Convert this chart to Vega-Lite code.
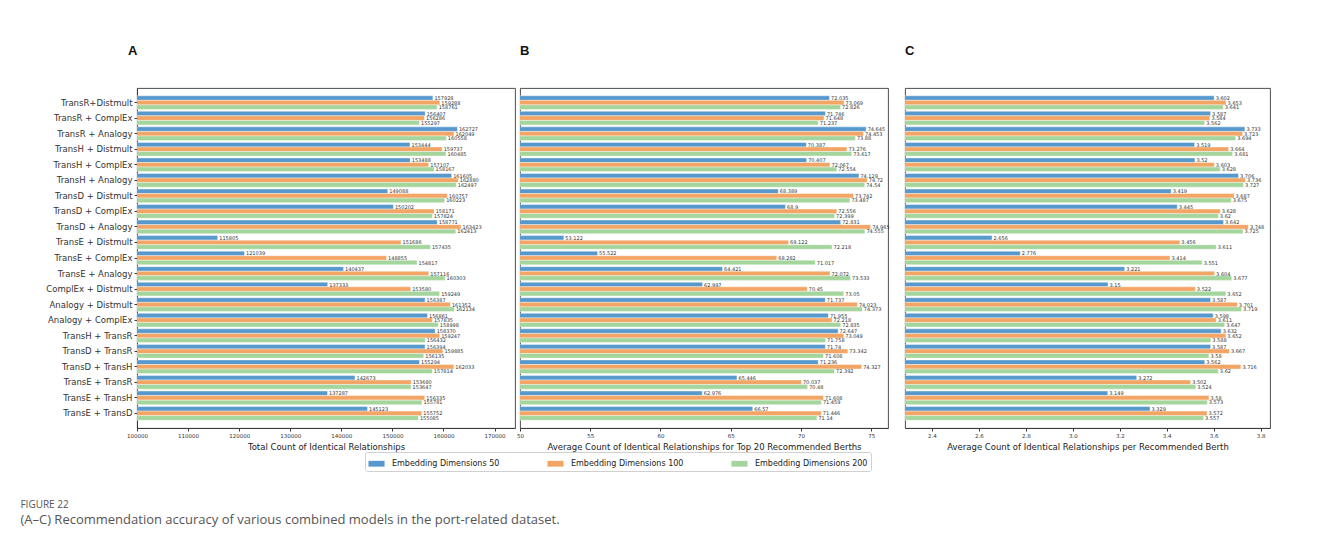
{
  "$schema": "https://vega.github.io/schema/vega-lite/v6.json",
  "padding": {"left": 20, "top": 44, "right": 10, "bottom": 5},
  "background": "white",
  "config": {
    "font": "DejaVu Sans",
    "view": {"stroke": "#3a3a3a", "strokeWidth": 0.9},
    "axis": {"grid": false, "labelFont": "DejaVu Sans", "titleFont": "DejaVu Sans", "labelColor": "#333", "titleColor": "#222", "domainColor": "#3a3a3a", "tickColor": "#3a3a3a", "tickSize": 3, "labelPadding": 2, "titleFontWeight": "normal"},
    "title": {"font": "Liberation Sans", "fontSize": 13, "fontWeight": "bold", "color": "#111", "anchor": "start", "offset": 30, "frame": "group"}
  },
  "datasets": {
    "total": [
      {"model": "TransR+Distmult", "dims": "Embedding Dimensions 50", "value": 157928},
      {"model": "TransR+Distmult", "dims": "Embedding Dimensions 100", "value": 159288},
      {"model": "TransR+Distmult", "dims": "Embedding Dimensions 200", "value": 158761},
      {"model": "TransR + ComplEx", "dims": "Embedding Dimensions 50", "value": 156407},
      {"model": "TransR + ComplEx", "dims": "Embedding Dimensions 100", "value": 156286},
      {"model": "TransR + ComplEx", "dims": "Embedding Dimensions 200", "value": 155297},
      {"model": "TransR + Analogy", "dims": "Embedding Dimensions 50", "value": 162727},
      {"model": "TransR + Analogy", "dims": "Embedding Dimensions 100", "value": 162049},
      {"model": "TransR + Analogy", "dims": "Embedding Dimensions 200", "value": 160558},
      {"model": "TransH + Distmult", "dims": "Embedding Dimensions 50", "value": 153444},
      {"model": "TransH + Distmult", "dims": "Embedding Dimensions 100", "value": 159737},
      {"model": "TransH + Distmult", "dims": "Embedding Dimensions 200", "value": 160485},
      {"model": "TransH + ComplEx", "dims": "Embedding Dimensions 50", "value": 153488},
      {"model": "TransH + ComplEx", "dims": "Embedding Dimensions 100", "value": 157107},
      {"model": "TransH + ComplEx", "dims": "Embedding Dimensions 200", "value": 158167},
      {"model": "TransH + Analogy", "dims": "Embedding Dimensions 50", "value": 161605},
      {"model": "TransH + Analogy", "dims": "Embedding Dimensions 100", "value": 162880},
      {"model": "TransH + Analogy", "dims": "Embedding Dimensions 200", "value": 162497},
      {"model": "TransD + Distmult", "dims": "Embedding Dimensions 50", "value": 149088},
      {"model": "TransD + Distmult", "dims": "Embedding Dimensions 100", "value": 160757},
      {"model": "TransD + Distmult", "dims": "Embedding Dimensions 200", "value": 160223},
      {"model": "TransD + ComplEx", "dims": "Embedding Dimensions 50", "value": 150202},
      {"model": "TransD + ComplEx", "dims": "Embedding Dimensions 100", "value": 158171},
      {"model": "TransD + ComplEx", "dims": "Embedding Dimensions 200", "value": 157824},
      {"model": "TransD + Analogy", "dims": "Embedding Dimensions 50", "value": 158771},
      {"model": "TransD + Analogy", "dims": "Embedding Dimensions 100", "value": 163423},
      {"model": "TransD + Analogy", "dims": "Embedding Dimensions 200", "value": 162413},
      {"model": "TransE + Distmult", "dims": "Embedding Dimensions 50", "value": 115805},
      {"model": "TransE + Distmult", "dims": "Embedding Dimensions 100", "value": 151686},
      {"model": "TransE + Distmult", "dims": "Embedding Dimensions 200", "value": 157435},
      {"model": "TransE + ComplEx", "dims": "Embedding Dimensions 50", "value": 121039},
      {"model": "TransE + ComplEx", "dims": "Embedding Dimensions 100", "value": 148855},
      {"model": "TransE + ComplEx", "dims": "Embedding Dimensions 200", "value": 154817},
      {"model": "TransE + Analogy", "dims": "Embedding Dimensions 50", "value": 140437},
      {"model": "TransE + Analogy", "dims": "Embedding Dimensions 100", "value": 157116},
      {"model": "TransE + Analogy", "dims": "Embedding Dimensions 200", "value": 160303},
      {"model": "ComplEx + Distmult", "dims": "Embedding Dimensions 50", "value": 137333},
      {"model": "ComplEx + Distmult", "dims": "Embedding Dimensions 100", "value": 153580},
      {"model": "ComplEx + Distmult", "dims": "Embedding Dimensions 200", "value": 159249},
      {"model": "Analogy + Distmult", "dims": "Embedding Dimensions 50", "value": 156387},
      {"model": "Analogy + Distmult", "dims": "Embedding Dimensions 100", "value": 161352},
      {"model": "Analogy + Distmult", "dims": "Embedding Dimensions 200", "value": 162134},
      {"model": "Analogy + ComplEx", "dims": "Embedding Dimensions 50", "value": 156861},
      {"model": "Analogy + ComplEx", "dims": "Embedding Dimensions 100", "value": 157835},
      {"model": "Analogy + ComplEx", "dims": "Embedding Dimensions 200", "value": 158998},
      {"model": "TransH + TransR", "dims": "Embedding Dimensions 50", "value": 158370},
      {"model": "TransH + TransR", "dims": "Embedding Dimensions 100", "value": 159247},
      {"model": "TransH + TransR", "dims": "Embedding Dimensions 200", "value": 156432},
      {"model": "TransD + TransR", "dims": "Embedding Dimensions 50", "value": 156394},
      {"model": "TransD + TransR", "dims": "Embedding Dimensions 100", "value": 159885},
      {"model": "TransD + TransR", "dims": "Embedding Dimensions 200", "value": 156135},
      {"model": "TransD + TransH", "dims": "Embedding Dimensions 50", "value": 155294},
      {"model": "TransD + TransH", "dims": "Embedding Dimensions 100", "value": 162033},
      {"model": "TransD + TransH", "dims": "Embedding Dimensions 200", "value": 157814},
      {"model": "TransE + TransR", "dims": "Embedding Dimensions 50", "value": 142673},
      {"model": "TransE + TransR", "dims": "Embedding Dimensions 100", "value": 153680},
      {"model": "TransE + TransR", "dims": "Embedding Dimensions 200", "value": 153647},
      {"model": "TransE + TransH", "dims": "Embedding Dimensions 50", "value": 137287},
      {"model": "TransE + TransH", "dims": "Embedding Dimensions 100", "value": 156335},
      {"model": "TransE + TransH", "dims": "Embedding Dimensions 200", "value": 155781},
      {"model": "TransE + TransD", "dims": "Embedding Dimensions 50", "value": 145123},
      {"model": "TransE + TransD", "dims": "Embedding Dimensions 100", "value": 155752},
      {"model": "TransE + TransD", "dims": "Embedding Dimensions 200", "value": 155085}
    ],
    "top20": [
      {"model": "TransR+Distmult", "dims": "Embedding Dimensions 50", "value": 72.035},
      {"model": "TransR+Distmult", "dims": "Embedding Dimensions 100", "value": 73.069},
      {"model": "TransR+Distmult", "dims": "Embedding Dimensions 200", "value": 72.826},
      {"model": "TransR + ComplEx", "dims": "Embedding Dimensions 50", "value": 71.746},
      {"model": "TransR + ComplEx", "dims": "Embedding Dimensions 100", "value": 71.648},
      {"model": "TransR + ComplEx", "dims": "Embedding Dimensions 200", "value": 71.237},
      {"model": "TransR + Analogy", "dims": "Embedding Dimensions 50", "value": 74.645},
      {"model": "TransR + Analogy", "dims": "Embedding Dimensions 100", "value": 74.453},
      {"model": "TransR + Analogy", "dims": "Embedding Dimensions 200", "value": 73.88},
      {"model": "TransH + Distmult", "dims": "Embedding Dimensions 50", "value": 70.387},
      {"model": "TransH + Distmult", "dims": "Embedding Dimensions 100", "value": 73.276},
      {"model": "TransH + Distmult", "dims": "Embedding Dimensions 200", "value": 73.617},
      {"model": "TransH + ComplEx", "dims": "Embedding Dimensions 50", "value": 70.407},
      {"model": "TransH + ComplEx", "dims": "Embedding Dimensions 100", "value": 72.067},
      {"model": "TransH + ComplEx", "dims": "Embedding Dimensions 200", "value": 72.554},
      {"model": "TransH + Analogy", "dims": "Embedding Dimensions 50", "value": 74.129},
      {"model": "TransH + Analogy", "dims": "Embedding Dimensions 100", "value": 74.72},
      {"model": "TransH + Analogy", "dims": "Embedding Dimensions 200", "value": 74.54},
      {"model": "TransD + Distmult", "dims": "Embedding Dimensions 50", "value": 68.389},
      {"model": "TransD + Distmult", "dims": "Embedding Dimensions 100", "value": 73.742},
      {"model": "TransD + Distmult", "dims": "Embedding Dimensions 200", "value": 73.487},
      {"model": "TransD + ComplEx", "dims": "Embedding Dimensions 50", "value": 68.9},
      {"model": "TransD + ComplEx", "dims": "Embedding Dimensions 100", "value": 72.556},
      {"model": "TransD + ComplEx", "dims": "Embedding Dimensions 200", "value": 72.399},
      {"model": "TransD + Analogy", "dims": "Embedding Dimensions 50", "value": 72.831},
      {"model": "TransD + Analogy", "dims": "Embedding Dimensions 100", "value": 74.965},
      {"model": "TransD + Analogy", "dims": "Embedding Dimensions 200", "value": 74.555},
      {"model": "TransE + Distmult", "dims": "Embedding Dimensions 50", "value": 53.122},
      {"model": "TransE + Distmult", "dims": "Embedding Dimensions 100", "value": 69.122},
      {"model": "TransE + Distmult", "dims": "Embedding Dimensions 200", "value": 72.218},
      {"model": "TransE + ComplEx", "dims": "Embedding Dimensions 50", "value": 55.522},
      {"model": "TransE + ComplEx", "dims": "Embedding Dimensions 100", "value": 68.282},
      {"model": "TransE + ComplEx", "dims": "Embedding Dimensions 200", "value": 71.017},
      {"model": "TransE + Analogy", "dims": "Embedding Dimensions 50", "value": 64.421},
      {"model": "TransE + Analogy", "dims": "Embedding Dimensions 100", "value": 72.072},
      {"model": "TransE + Analogy", "dims": "Embedding Dimensions 200", "value": 73.533},
      {"model": "ComplEx + Distmult", "dims": "Embedding Dimensions 50", "value": 62.997},
      {"model": "ComplEx + Distmult", "dims": "Embedding Dimensions 100", "value": 70.45},
      {"model": "ComplEx + Distmult", "dims": "Embedding Dimensions 200", "value": 73.05},
      {"model": "Analogy + Distmult", "dims": "Embedding Dimensions 50", "value": 71.737},
      {"model": "Analogy + Distmult", "dims": "Embedding Dimensions 100", "value": 74.023},
      {"model": "Analogy + Distmult", "dims": "Embedding Dimensions 200", "value": 74.373},
      {"model": "Analogy + ComplEx", "dims": "Embedding Dimensions 50", "value": 71.955},
      {"model": "Analogy + ComplEx", "dims": "Embedding Dimensions 100", "value": 72.218},
      {"model": "Analogy + ComplEx", "dims": "Embedding Dimensions 200", "value": 72.835},
      {"model": "TransH + TransR", "dims": "Embedding Dimensions 50", "value": 72.647},
      {"model": "TransH + TransR", "dims": "Embedding Dimensions 100", "value": 73.049},
      {"model": "TransH + TransR", "dims": "Embedding Dimensions 200", "value": 71.758},
      {"model": "TransD + TransR", "dims": "Embedding Dimensions 50", "value": 71.74},
      {"model": "TransD + TransR", "dims": "Embedding Dimensions 100", "value": 73.342},
      {"model": "TransD + TransR", "dims": "Embedding Dimensions 200", "value": 71.608},
      {"model": "TransD + TransH", "dims": "Embedding Dimensions 50", "value": 71.236},
      {"model": "TransD + TransH", "dims": "Embedding Dimensions 100", "value": 74.327},
      {"model": "TransD + TransH", "dims": "Embedding Dimensions 200", "value": 72.392},
      {"model": "TransE + TransR", "dims": "Embedding Dimensions 50", "value": 65.446},
      {"model": "TransE + TransR", "dims": "Embedding Dimensions 100", "value": 70.037},
      {"model": "TransE + TransR", "dims": "Embedding Dimensions 200", "value": 70.48},
      {"model": "TransE + TransH", "dims": "Embedding Dimensions 50", "value": 62.976},
      {"model": "TransE + TransH", "dims": "Embedding Dimensions 100", "value": 71.608},
      {"model": "TransE + TransH", "dims": "Embedding Dimensions 200", "value": 71.459},
      {"model": "TransE + TransD", "dims": "Embedding Dimensions 50", "value": 66.57},
      {"model": "TransE + TransD", "dims": "Embedding Dimensions 100", "value": 71.446},
      {"model": "TransE + TransD", "dims": "Embedding Dimensions 200", "value": 71.14}
    ],
    "perBerth": [
      {"model": "TransR+Distmult", "dims": "Embedding Dimensions 50", "value": 3.602},
      {"model": "TransR+Distmult", "dims": "Embedding Dimensions 100", "value": 3.653},
      {"model": "TransR+Distmult", "dims": "Embedding Dimensions 200", "value": 3.641},
      {"model": "TransR + ComplEx", "dims": "Embedding Dimensions 50", "value": 3.587},
      {"model": "TransR + ComplEx", "dims": "Embedding Dimensions 100", "value": 3.584},
      {"model": "TransR + ComplEx", "dims": "Embedding Dimensions 200", "value": 3.562},
      {"model": "TransR + Analogy", "dims": "Embedding Dimensions 50", "value": 3.733},
      {"model": "TransR + Analogy", "dims": "Embedding Dimensions 100", "value": 3.723},
      {"model": "TransR + Analogy", "dims": "Embedding Dimensions 200", "value": 3.694},
      {"model": "TransH + Distmult", "dims": "Embedding Dimensions 50", "value": 3.519},
      {"model": "TransH + Distmult", "dims": "Embedding Dimensions 100", "value": 3.664},
      {"model": "TransH + Distmult", "dims": "Embedding Dimensions 200", "value": 3.681},
      {"model": "TransH + ComplEx", "dims": "Embedding Dimensions 50", "value": 3.52},
      {"model": "TransH + ComplEx", "dims": "Embedding Dimensions 100", "value": 3.603},
      {"model": "TransH + ComplEx", "dims": "Embedding Dimensions 200", "value": 3.628},
      {"model": "TransH + Analogy", "dims": "Embedding Dimensions 50", "value": 3.706},
      {"model": "TransH + Analogy", "dims": "Embedding Dimensions 100", "value": 3.736},
      {"model": "TransH + Analogy", "dims": "Embedding Dimensions 200", "value": 3.727},
      {"model": "TransD + Distmult", "dims": "Embedding Dimensions 50", "value": 3.419},
      {"model": "TransD + Distmult", "dims": "Embedding Dimensions 100", "value": 3.687},
      {"model": "TransD + Distmult", "dims": "Embedding Dimensions 200", "value": 3.675},
      {"model": "TransD + ComplEx", "dims": "Embedding Dimensions 50", "value": 3.445},
      {"model": "TransD + ComplEx", "dims": "Embedding Dimensions 100", "value": 3.628},
      {"model": "TransD + ComplEx", "dims": "Embedding Dimensions 200", "value": 3.62},
      {"model": "TransD + Analogy", "dims": "Embedding Dimensions 50", "value": 3.642},
      {"model": "TransD + Analogy", "dims": "Embedding Dimensions 100", "value": 3.748},
      {"model": "TransD + Analogy", "dims": "Embedding Dimensions 200", "value": 3.725},
      {"model": "TransE + Distmult", "dims": "Embedding Dimensions 50", "value": 2.656},
      {"model": "TransE + Distmult", "dims": "Embedding Dimensions 100", "value": 3.456},
      {"model": "TransE + Distmult", "dims": "Embedding Dimensions 200", "value": 3.611},
      {"model": "TransE + ComplEx", "dims": "Embedding Dimensions 50", "value": 2.776},
      {"model": "TransE + ComplEx", "dims": "Embedding Dimensions 100", "value": 3.414},
      {"model": "TransE + ComplEx", "dims": "Embedding Dimensions 200", "value": 3.551},
      {"model": "TransE + Analogy", "dims": "Embedding Dimensions 50", "value": 3.221},
      {"model": "TransE + Analogy", "dims": "Embedding Dimensions 100", "value": 3.604},
      {"model": "TransE + Analogy", "dims": "Embedding Dimensions 200", "value": 3.677},
      {"model": "ComplEx + Distmult", "dims": "Embedding Dimensions 50", "value": 3.15},
      {"model": "ComplEx + Distmult", "dims": "Embedding Dimensions 100", "value": 3.522},
      {"model": "ComplEx + Distmult", "dims": "Embedding Dimensions 200", "value": 3.652},
      {"model": "Analogy + Distmult", "dims": "Embedding Dimensions 50", "value": 3.587},
      {"model": "Analogy + Distmult", "dims": "Embedding Dimensions 100", "value": 3.701},
      {"model": "Analogy + Distmult", "dims": "Embedding Dimensions 200", "value": 3.719},
      {"model": "Analogy + ComplEx", "dims": "Embedding Dimensions 50", "value": 3.598},
      {"model": "Analogy + ComplEx", "dims": "Embedding Dimensions 100", "value": 3.611},
      {"model": "Analogy + ComplEx", "dims": "Embedding Dimensions 200", "value": 3.647},
      {"model": "TransH + TransR", "dims": "Embedding Dimensions 50", "value": 3.632},
      {"model": "TransH + TransR", "dims": "Embedding Dimensions 100", "value": 3.652},
      {"model": "TransH + TransR", "dims": "Embedding Dimensions 200", "value": 3.588},
      {"model": "TransD + TransR", "dims": "Embedding Dimensions 50", "value": 3.587},
      {"model": "TransD + TransR", "dims": "Embedding Dimensions 100", "value": 3.667},
      {"model": "TransD + TransR", "dims": "Embedding Dimensions 200", "value": 3.58},
      {"model": "TransD + TransH", "dims": "Embedding Dimensions 50", "value": 3.562},
      {"model": "TransD + TransH", "dims": "Embedding Dimensions 100", "value": 3.716},
      {"model": "TransD + TransH", "dims": "Embedding Dimensions 200", "value": 3.62},
      {"model": "TransE + TransR", "dims": "Embedding Dimensions 50", "value": 3.272},
      {"model": "TransE + TransR", "dims": "Embedding Dimensions 100", "value": 3.502},
      {"model": "TransE + TransR", "dims": "Embedding Dimensions 200", "value": 3.524},
      {"model": "TransE + TransH", "dims": "Embedding Dimensions 50", "value": 3.149},
      {"model": "TransE + TransH", "dims": "Embedding Dimensions 100", "value": 3.58},
      {"model": "TransE + TransH", "dims": "Embedding Dimensions 200", "value": 3.573},
      {"model": "TransE + TransD", "dims": "Embedding Dimensions 50", "value": 3.329},
      {"model": "TransE + TransD", "dims": "Embedding Dimensions 100", "value": 3.572},
      {"model": "TransE + TransD", "dims": "Embedding Dimensions 200", "value": 3.557}
    ]
  },
  "title": {
    "text": "FIGURE 22",
    "subtitle": "(A–C) Recommendation accuracy of various combined models in the port-related dataset.",
    "orient": "bottom",
    "anchor": "start",
    "frame": "bounds",
    "font": "Open Sans",
    "fontSize": 10,
    "fontWeight": "normal",
    "color": "#555",
    "subtitleFont": "Open Sans",
    "subtitleFontSize": 13,
    "subtitleColor": "#555",
    "subtitlePadding": 4,
    "offset": 28,
    "dx": -25
  },
  "resolve": {
    "scale": {"x": "independent", "y": "shared", "color": "shared", "yOffset": "shared"},
    "axis": {"x": "independent", "y": "independent"}
  },
  "spacing": 0,
  "hconcat": [
    {
      "title": {"text": "A", "dx": -9},
      "width": 378,
      "height": 340,
      "data": {"name": "total"},
      "encoding": {
        "y": {"field": "model", "type": "nominal", "sort": null,
              "scale": {"paddingInner": 0.12, "paddingOuter": 0.5},
              "axis": {"title": null, "labelFontSize": 8.5, "labelColor": "#333"}},
        "yOffset": {"field": "dims", "type": "nominal",
                    "scale": {"domain": ["Embedding Dimensions 50", "Embedding Dimensions 100", "Embedding Dimensions 200"]}},
        "x": {"field": "value", "type": "quantitative",
              "scale": {"domain": [100000, 174000], "nice": false, "zero": false},
              "axis": {"title": "Total Count of Identical Relationships", "titleFontSize": 8.5, "labelFontSize": 5.5,
                       "values": [100000, 110000, 120000, 130000, 140000, 150000, 160000, 170000], "format": "d", "labelFlush": false}}
      },
      "layer": [
        {"mark": {"type": "bar", "clip": true, "stroke": "white", "strokeWidth": 0.4},
         "encoding": {"color": {"field": "dims", "type": "nominal",
            "scale": {"domain": ["Embedding Dimensions 50", "Embedding Dimensions 100", "Embedding Dimensions 200"], "range": ["#5799cc", "#f2a565", "#a4d59c"]},
            "legend": {"title": null, "orient": "none", "direction": "horizontal", "legendX": 228, "legendY": 364,
                       "labelFontSize": 8, "labelFont": "DejaVu Sans", "labelColor": "#222", "labelOffset": 7,
                       "symbolType": "M-1,-0.36L1,-0.36L1,0.36L-1,0.36Z", "symbolSize": 260, "symbolStrokeWidth": 0,
                       "columnPadding": 47, "padding": 3, "strokeColor": "#d0d0d0", "cornerRadius": 2, "fillColor": "white"}}}},
        {"mark": {"type": "text", "align": "left", "baseline": "middle", "dx": 1.5, "fontSize": 5, "color": "#333"},
         "encoding": {"text": {"field": "value", "type": "quantitative", "format": "d"}}}
      ]
    },
    {
      "title": "B",
      "width": 368,
      "height": 340,
      "data": {"name": "top20"},
      "encoding": {
        "y": {"field": "model", "type": "nominal", "sort": null, "axis": null},
        "yOffset": {"field": "dims", "type": "nominal"},
        "x": {"field": "value", "type": "quantitative",
              "scale": {"domain": [50, 76.2], "nice": false, "zero": false},
              "axis": {"title": "Average Count of Identical Relationships for Top 20 Recommended Berths", "titleFontSize": 8.5, "labelFontSize": 5.5,
                       "values": [50, 55, 60, 65, 70, 75], "labelFlush": false}}
      },
      "layer": [
        {"mark": {"type": "bar", "clip": true, "stroke": "white", "strokeWidth": 0.4},
         "encoding": {"color": {"field": "dims", "type": "nominal"}}},
        {"mark": {"type": "text", "align": "left", "baseline": "middle", "dx": 1.5, "fontSize": 5, "color": "#333"},
         "encoding": {"text": {"field": "value", "type": "quantitative", "format": ""}}}
      ]
    },
    {
      "title": "C",
      "width": 365,
      "height": 340,
      "data": {"name": "perBerth"},
      "encoding": {
        "y": {"field": "model", "type": "nominal", "sort": null,
              "axis": {"title": null, "labels": false, "ticks": false, "domain": false, "minExtent": 13, "maxExtent": 13}},
        "yOffset": {"field": "dims", "type": "nominal"},
        "x": {"field": "value", "type": "quantitative",
              "scale": {"domain": [2.285, 3.84], "nice": false, "zero": false},
              "axis": {"title": "Average Count of Identical Relationships per Recommended Berth", "titleFontSize": 8.5, "labelFontSize": 5.5,
                       "values": [2.4, 2.6, 2.8, 3.0, 3.2, 3.4, 3.6, 3.8], "format": ".1f", "labelFlush": false}}
      },
      "layer": [
        {"mark": {"type": "bar", "clip": true, "stroke": "white", "strokeWidth": 0.4},
         "encoding": {"color": {"field": "dims", "type": "nominal"}}},
        {"mark": {"type": "text", "align": "left", "baseline": "middle", "dx": 1.5, "fontSize": 5, "color": "#333"},
         "encoding": {"text": {"field": "value", "type": "quantitative", "format": ""}}}
      ]
    }
  ]
}
